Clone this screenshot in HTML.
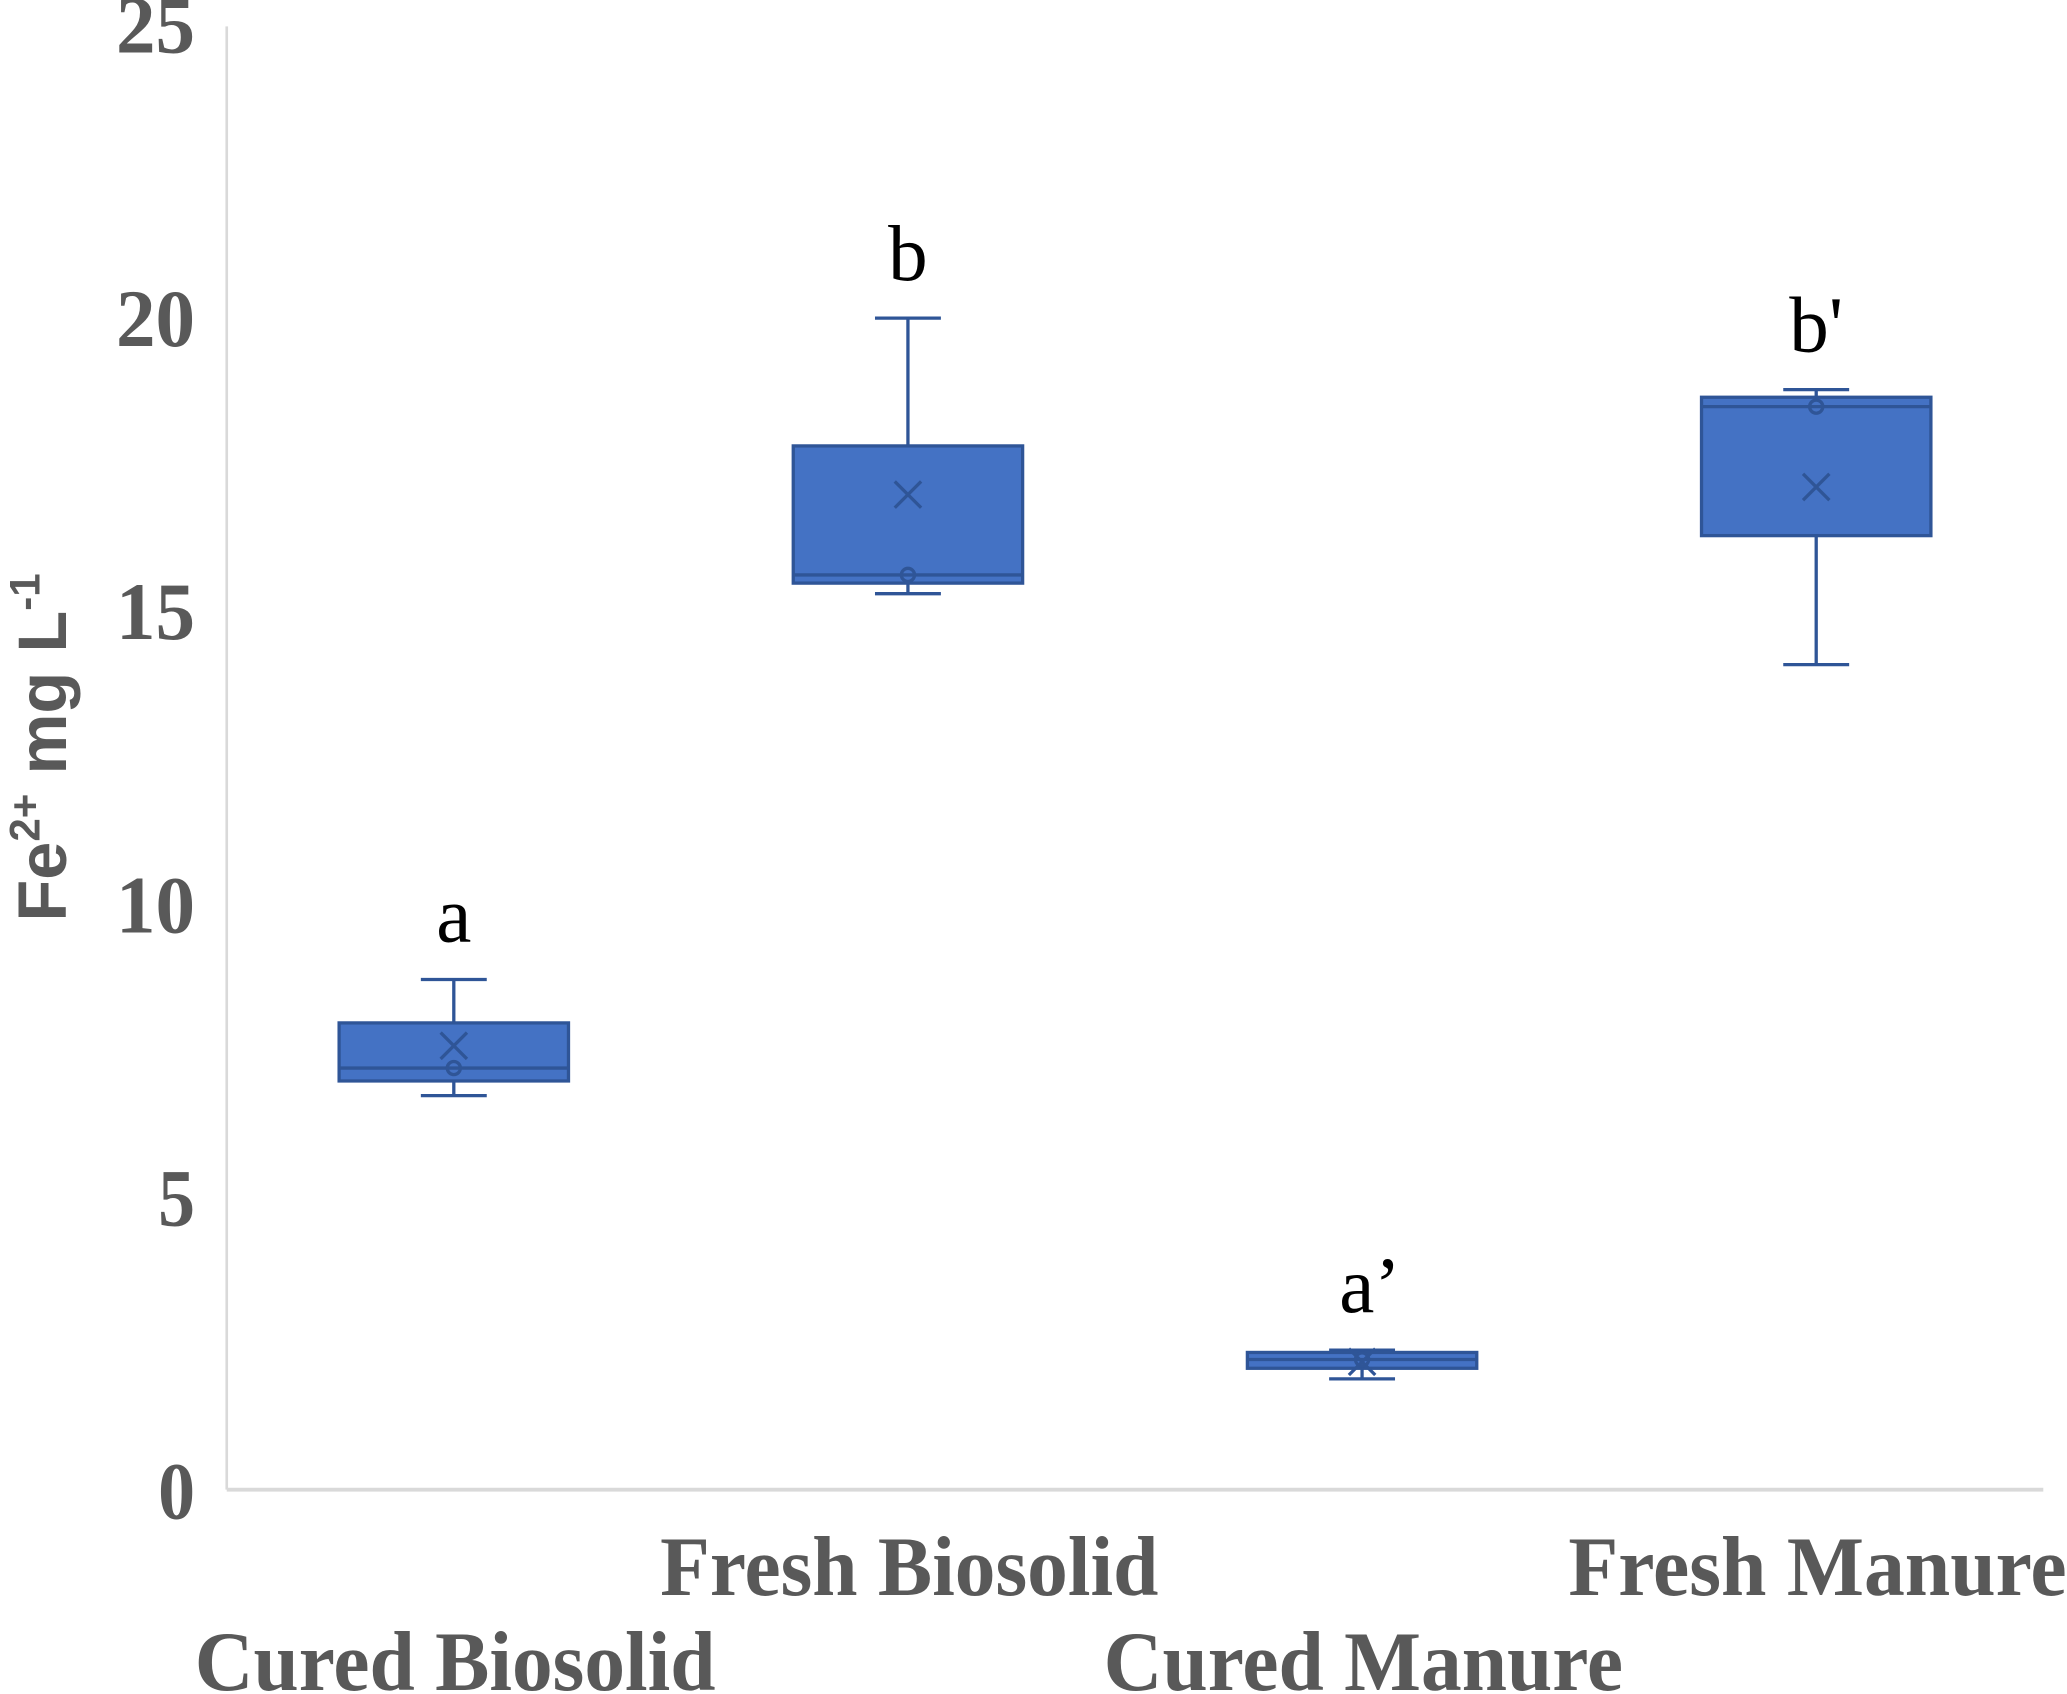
<!DOCTYPE html>
<html><head><meta charset="utf-8"><style>html,body{margin:0;padding:0;background:#fff}svg{display:block}</style></head>
<body>
<svg width="2067" height="1694" viewBox="0 0 1568 1285" preserveAspectRatio="none" xmlns="http://www.w3.org/2000/svg">
<g id="axes"></g>
<g id="marks"></g>
</svg>
<script>
const categories = ["Cured Biosolid","Fresh Biosolid","Cured Manure","Fresh Manure"];
const minVals = [6.72, 15.28, 1.89, 14.07];
const q1Vals = [6.97, 15.46, 2.07, 16.27];
const medianVals = [7.19, 15.6, 2.22, 18.47];
const q3Vals = [7.96, 17.8, 2.34, 18.63];
const maxVals = [8.7, 19.98, 2.38, 18.76];
const meanVals = [7.57, 16.97, 2.18, 17.1];
const letters = ["a","b","a\u2019","b'"];
const yTicks = [0,5,10,15,20,25];

const NS = "http://www.w3.org/2000/svg";
const y0 = 1130, yTop = 18, yMax = 25;
const y = v => y0 - (y0 - yTop) * v / yMax;
const xLeft = 172, xRight = 1550;
const x = i => xLeft + (xRight - xLeft) * (i + 0.5) / categories.length;
const axes = document.getElementById('axes');
const marks = document.getElementById('marks');
function mk(tag, attrs, parent, text) {
  const e = document.createElementNS(NS, tag);
  for (const k in attrs) e.setAttribute(k, attrs[k]);
  if (text !== undefined) e.textContent = text;
  parent.appendChild(e);
  return e;
}
let e;
e = mk('line', {x1: xLeft, y1: 20, x2: xLeft, y2: y0, stroke: '#d9d9d9', 'stroke-width': 2}, axes);


e = mk('line', {x1: xLeft, y1: y0, x2: xRight, y2: y0, stroke: '#d9d9d9', 'stroke-width': 3}, axes);


yTicks.forEach(t => {
  const s = String(t);
  const w = s.length === 2 ? 60 : 28;
  const l = mk('text', {x: 148 - w, y: y(t) + 22, 'font-family': '"Liberation Serif", serif', 'font-weight': 'bold', 'font-size': 62, fill: '#595959', textLength: w, lengthAdjust: 'spacingAndGlyphs'}, axes, s);
  
  
});
e = mk('text', {transform: 'translate(50,567) rotate(-90)', 'text-anchor': 'middle', 'font-family': '"Liberation Sans", sans-serif', 'font-weight': 'bold', 'font-size': 52, fill: '#595959'}, axes);


e.innerHTML = 'Fe<tspan dy="-20" font-size="32">2+</tspan><tspan dy="20"> mg L</tspan><tspan dy="-20" font-size="32">-1</tspan>';

const labelW = [395, 378, 394, 378];
categories.forEach((c, i) => {
  const cx = x(i);
  const ly = i % 2 === 0 ? 1282 : 1210;
  const l = mk('text', {x: cx + 1, y: ly, 'text-anchor': 'middle', 'font-family': '"Liberation Serif", serif', 'font-weight': 'bold', 'font-size': 64, fill: '#595959', textLength: labelW[i], lengthAdjust: 'spacingAndGlyphs'}, axes, c);
  
  
  const g = mk('g', {}, marks);
  
  
  const st = {stroke: '#2F5597', 'stroke-width': 2.5, fill: 'none'};
  mk('line', Object.assign({x1: cx, y1: y(maxVals[i]), x2: cx, y2: y(minVals[i])}, st), g);
  mk('line', Object.assign({x1: cx - 25, y1: y(maxVals[i]), x2: cx + 25, y2: y(maxVals[i])}, st), g);
  mk('line', Object.assign({x1: cx - 25, y1: y(minVals[i]), x2: cx + 25, y2: y(minVals[i])}, st), g);
  mk('rect', {x: cx - 87, y: y(q3Vals[i]), width: 174, height: y(q1Vals[i]) - y(q3Vals[i]), fill: '#4472C4', stroke: '#2F5597', 'stroke-width': 2.5}, g);
  mk('line', Object.assign({x1: cx - 87, y1: y(medianVals[i]), x2: cx + 87, y2: y(medianVals[i])}, st), g);
  mk('circle', Object.assign({cx: cx, cy: y(medianVals[i]), r: 5}, st), g);
  const my = y(meanVals[i]);
  mk('path', Object.assign({d: `M${cx-10},${my-10}L${cx+10},${my+10}M${cx-10},${my+10}L${cx+10},${my-10}`}, st), g);
  const ty = y(maxVals[i]) - 29;
  const t = mk('text', {x: cx + (i === 2 ? 6 : 0), y: ty, 'text-anchor': 'middle', 'font-family': '"Liberation Serif", serif', 'font-size': 60, fill: '#000'}, marks, letters[i]);
  
  
});
</script>
</body></html>
